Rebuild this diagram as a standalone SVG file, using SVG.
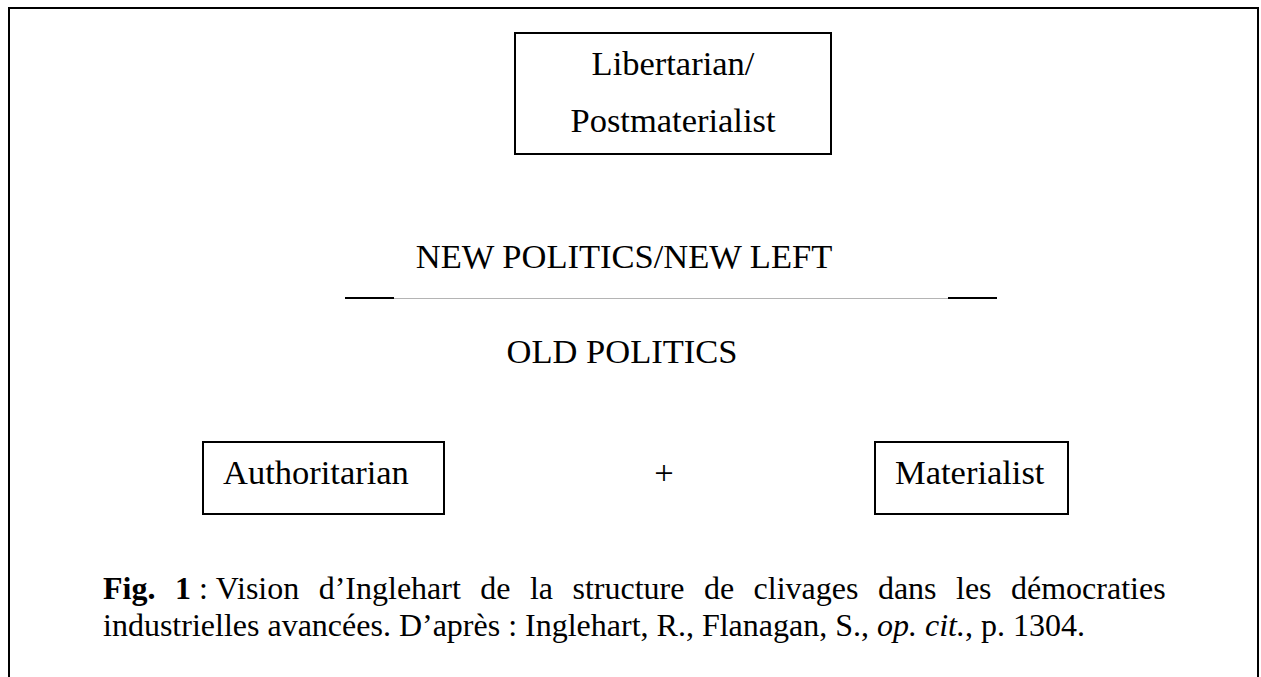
<svg xmlns="http://www.w3.org/2000/svg" width="1261" height="677" viewBox="0 0 1261 677">
<style>
.t{font-family:"Liberation Serif","Times New Roman",serif;fill:#000}
.big{font-size:34.5px}
.cap{font-size:32px}
.box{fill:#fff;stroke:#000;stroke-width:2}
</style>
<rect width="1261" height="677" fill="#fff"/>
<path d="M9,677 V8 H1258 V677" fill="none" stroke="#000" stroke-width="2"/>
<g id="libertarian">
<rect class="box" x="515" y="33" width="316" height="121"/>
<text class="t big" x="673" y="75" text-anchor="middle">Libertarian/</text>
<text class="t big" x="673" y="132" text-anchor="middle">Postmaterialist</text>
</g>
<g id="new-politics">
<text class="t big" x="624" y="268" text-anchor="middle">NEW POLITICS/NEW LEFT</text>
</g>
<g id="connectors">
<line x1="345" y1="298" x2="394" y2="298" stroke="#000" stroke-width="2"/>
<line x1="394" y1="298.5" x2="948" y2="298.5" stroke="#b4b4b4" stroke-width="1"/>
<line x1="948" y1="298" x2="997" y2="298" stroke="#000" stroke-width="2"/>
</g>
<g id="old-politics">
<text class="t big" x="622" y="363" text-anchor="middle">OLD POLITICS</text>
</g>
<g id="authoritarian">
<rect class="box" x="203" y="442" width="241" height="72"/>
<text class="t big" x="223" y="484">Authoritarian</text>
</g>
<g id="plus">
<text class="t big" x="664" y="484" text-anchor="middle">+</text>
</g>
<g id="materialist">
<rect class="box" x="875" y="442" width="193" height="72"/>
<text class="t big" x="895" y="484">Materialist</text>
</g>
<g id="caption">
<text class="t cap" x="103" y="599" font-weight="bold" word-spacing="11.46">Fig. 1</text>
<text class="t cap" x="199" y="599">:</text>
<text class="t cap" x="215.8" y="599" word-spacing="11.46">Vision d’Inglehart de la structure de clivages dans les démocraties</text>
<text class="t cap" x="103" y="636">industrielles avancées. D’après : Inglehart, R., Flanagan, S., <tspan font-style="italic">op. cit.</tspan>, p. 1304.</text>
</g>
</svg>
